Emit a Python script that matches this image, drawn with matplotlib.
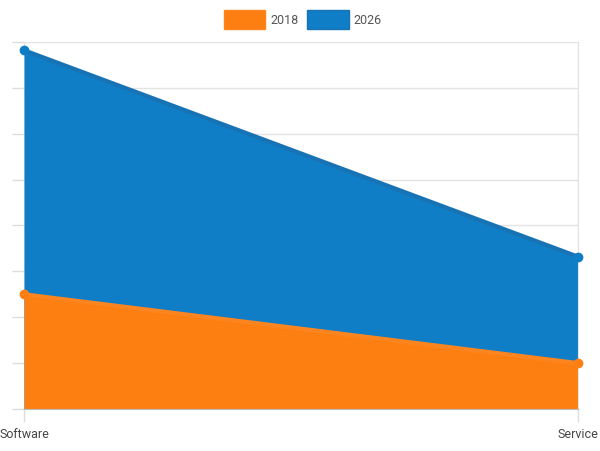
import matplotlib.pyplot as plt
from matplotlib.patches import Patch

categories = ['Software', 'Service']
years = ['2018', '2026']
values_2018 = [125, 50]
values_2026 = [391, 166]

colors = {'2018': '#fd7f12', '2026': '#0f7ec6'}
edge = {'2018': '#fd8520', '2026': '#1873b5'}

plt.rcParams['font.family'] = ['Roboto', 'DejaVu Sans']

fig = plt.figure(figsize=(6, 4.52), dpi=100)
ax = fig.add_axes([0.04, 0.0929, 0.9233, 0.812])

x = list(range(len(categories)))
# 2026 behind, 2018 in front (not stacked)
for year, vals in (('2026', values_2026), ('2018', values_2018)):
    ax.fill_between(x, 0, vals, color=colors[year], linewidth=0, zorder=2)
    ax.plot(x, vals, color=edge[year], linewidth=3, zorder=3,
            marker='o', markersize=6, markerfacecolor=colors[year],
            markeredgecolor=colors[year], clip_on=False)

ax.set_xlim(0, 1)
ax.set_ylim(0, 400)
ax.set_yticks(range(0, 401, 50))
ax.set_yticklabels([])
ax.set_xticks(x)
ax.set_xticklabels(categories, fontsize=9, color='#444444')
ax.tick_params(axis='y', length=9, color='#dddddd', width=1)
ax.tick_params(axis='x', length=9, color='#dddddd', width=1, pad=4)
ax.grid(True, axis='both', color='#e3e3e3', linewidth=1, zorder=0)
for side in ('top', 'left'):
    ax.spines[side].set_visible(False)
ax.spines['right'].set_color('#e3e3e3')
ax.spines['bottom'].set_color('#bbbbbb')
ax.spines['bottom'].set_zorder(4)

handles = [Patch(facecolor=colors[y], edgecolor=edge[y], linewidth=1) for y in years]
fig.legend(handles, years, loc='upper center', bbox_to_anchor=(0.505, 1.0),
           ncol=2, frameon=False, fontsize=9, handlelength=3.3, handleheight=1.9,
           handletextpad=0.4, columnspacing=0.7, labelcolor='#555555')

fig.savefig('out.png', dpi=100)
